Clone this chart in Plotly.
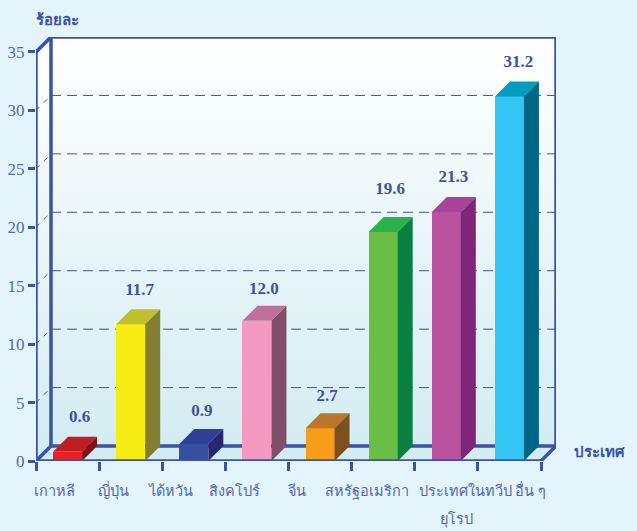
import plotly.graph_objects as go

CATEGORIES = ["เกาหลี", "ญี่ปุ่น", "ได้หวัน", "สิงคโปร์", "จีน", "สหรัฐอเมริกา", "ประเทศในทวีป", "อื่น ๆ"]
# heights as drawn in the picture (the two smallest bars are drawn taller than their printed value)
VALUES = [0.8, 11.7, 1.45, 12.0, 2.8, 19.6, 21.3, 31.2]
VALUE_TEXT = ["0.6", "11.7", "0.9", "12.0", "2.7", "19.6", "21.3", "31.2"]
Y_TICKS = [0, 5, 10, 15, 20, 25, 30, 35]
FRONT = ["#EE2024", "#F7EC13", "#364FA0", "#F49AC1", "#F99D1C", "#6ABD45", "#B9529F", "#33C5F4"]
TOP = ["#BE1E24", "#BFBF30", "#2E3F97", "#C0719B", "#BC762A", "#2BB34B", "#A8429A", "#009DBF"]
SIDE = ["#7D1416", "#808030", "#27276F", "#804E67", "#7E4F20", "#0A8040", "#7E2679", "#006685"]
# horizontal nudge of the category captions relative to each bar, in category units
LABEL_SHIFT = [-0.2, -0.27, -0.36, -0.36, -0.36, -0.25, 0.3, 0.33]
# pixel gap between the top of each bar's depth face and its printed value; horizontal nudge
VALUE_GAP = [19, 19, 17, 16, 17, 27, 19, 19]
VALUE_NUDGE = [12, 9, 8, 7, 7, 7, 7, 9]

W, H = 637, 531
L, T, B = 36, 37, 69.5
PX = 63.14           # pixels per category
PY = (H - T - B - 15) / 35.0  # pixels per unit value
DX, DY = 15 / PX, 15 / PY
BAR = 29 / PX
XMIN, XMAX = -0.5, 7.5 + DX
YMAX = 35 + DY
R = W - L - PX * (XMAX - XMIN)
PLOT_W = W - L - R
PLOT_H = H - T - B

INK = "#3A53A4"
TICKTEXT = "#5268AE"
SERIF = "Liberation Serif, Tinos, Times New Roman, serif"


def paper_x(px):
    return (px - L) / PLOT_W


def paper_y(py):
    return (H - B - py) / PLOT_H


fig = go.Figure()

# walls and floor
fig.add_trace(go.Scatter(
    x=[XMIN, XMIN, XMIN + DX, XMAX, XMAX, XMAX - DX, XMIN],
    y=[0, 35, YMAX, YMAX, DY, 0, 0],
    mode="lines", line=dict(width=0), fill="toself",
    fillgradient=dict(type="vertical", colorscale=[[0, "#D2ECF2"], [1, "#FFFFFF"]]),
    hoverinfo="skip", showlegend=False))

# dashed grid on the back wall and on the left wall
grid_x, grid_y, diag_x, diag_y = [], [], [], []
for v in Y_TICKS[1:-1]:
    grid_x += [XMIN + DX, XMAX, None]
    grid_y += [v + DY, v + DY, None]
    diag_x += [XMIN, XMIN + DX, None]
    diag_y += [v, v + DY, None]
fig.add_trace(go.Scatter(x=grid_x, y=grid_y, mode="lines",
                         line=dict(color=INK, width=1, dash="10px,6px"),
                         hoverinfo="skip", showlegend=False))
fig.add_trace(go.Scatter(x=diag_x, y=diag_y, mode="lines",
                         line=dict(color=INK, width=1, dash="5px,6px"),
                         hoverinfo="skip", showlegend=False))

# frame
frame = [
    ([XMIN + DX, XMIN + DX, XMAX, XMAX, XMIN + DX], [DY, YMAX, YMAX, DY, DY]),
    ([XMIN, XMIN + DX], [35, YMAX]),
    ([XMIN, XMIN + DX], [0, DY]),
    ([XMAX - DX, XMAX], [0, DY]),
    ([XMIN, XMIN], [0, 35]),
]
for fx, fy in frame:
    fig.add_trace(go.Scatter(x=fx, y=fy, mode="lines", cliponaxis=False,
                             line=dict(color=INK, width=3.5),
                             hoverinfo="skip", showlegend=False))

# bars on the overlay axes, so they sit in front of the walls
xs = list(range(len(VALUES)))
fig.add_trace(go.Bar(x=xs, y=VALUES, width=BAR, marker=dict(color=FRONT, line=dict(width=0)),
                     xaxis="x2", yaxis="y2", hoverinfo="skip", showlegend=False))
for i, v in enumerate(VALUES):
    x0, x1 = i - BAR / 2, i + BAR / 2
    fig.add_trace(go.Scatter(x=[x0, x1, x1 + DX, x0 + DX, x0], y=[v, v, v + DY, v + DY, v],
                             mode="lines", line=dict(width=0), fill="toself", fillcolor=TOP[i],
                             xaxis="x2", yaxis="y2", hoverinfo="skip", showlegend=False))
    fig.add_trace(go.Scatter(x=[x1, x1 + DX, x1 + DX, x1, x1], y=[0, DY, v + DY, v, 0],
                             mode="lines", line=dict(width=0), fill="toself", fillcolor=SIDE[i],
                             xaxis="x2", yaxis="y2", hoverinfo="skip", showlegend=False))

# front floor edge goes over the bar feet
fig.add_trace(go.Scatter(x=[XMIN, XMAX - DX], y=[0, 0], mode="lines", cliponaxis=False,
                         line=dict(color=INK, width=3.5), xaxis="x2", yaxis="y2",
                         hoverinfo="skip", showlegend=False))

# value labels
fig.add_trace(go.Scatter(
    x=[i + n / PX for i, n in zip(xs, VALUE_NUDGE)],
    y=[v + DY + g / PY for v, g in zip(VALUES, VALUE_GAP)],
    mode="text", text=VALUE_TEXT, textposition="middle center",
    textfont=dict(family=SERIF, size=17, color=INK, weight="bold"),
    cliponaxis=False, xaxis="x2", yaxis="y2", hoverinfo="skip", showlegend=False))

fig.update_layout(
    width=W, height=H, autosize=False,
    margin=dict(l=L, r=R, t=T, b=B, pad=0, autoexpand=False),
    paper_bgcolor="#E4F4FB", plot_bgcolor="rgba(0,0,0,0)",
    showlegend=False, bargap=0,
    font=dict(family=SERIF, color=TICKTEXT, size=16),
    xaxis=dict(range=[XMIN, XMAX], tickmode="array", automargin=False,
               tickvals=[i - 0.5 for i in range(len(CATEGORIES) + 1)],
               ticktext=[""] * (len(CATEGORIES) + 1),
               ticks="outside", ticklen=9, tickwidth=3, tickcolor=INK,
               showgrid=False, zeroline=False, showline=False),
    yaxis=dict(range=[0, YMAX], tickmode="array", tickvals=Y_TICKS, automargin=False,
               ticktext=[str(v) for v in Y_TICKS],
               ticks="outside", ticklen=7, tickwidth=3, tickcolor=INK,
               tickfont=dict(family=SERIF, size=17, color=TICKTEXT),
               showgrid=False, zeroline=False, showline=False),
    xaxis2=dict(range=[XMIN, XMAX], overlaying="x", anchor="y2", side="bottom", automargin=False,
                tickmode="array", tickvals=[i + s for i, s in zip(xs, LABEL_SHIFT)],
                ticktext=CATEGORIES, ticks="outside", ticklen=17, tickcolor="rgba(0,0,0,0)",
                tickangle=0, tickfont=dict(family=SERIF, size=14.5, color=TICKTEXT),
                showgrid=False, zeroline=False, showline=False),
    yaxis2=dict(range=[0, YMAX], overlaying="y", anchor="x2", visible=False, automargin=False),
    annotations=[
        dict(xref="paper", yref="paper", x=paper_x(58), y=paper_y(20), text="<b>ร้อยละ</b>", showarrow=False,
             xanchor="center", yanchor="middle", font=dict(family=SERIF, size=15, color=INK)),
        dict(xref="paper", yref="paper", x=paper_x(600), y=paper_y(452), text="<b>ประเทศ</b>", showarrow=False,
             xanchor="center", yanchor="middle", font=dict(family=SERIF, size=15, color=INK)),
        dict(xref="paper", yref="paper", x=paper_x(457), y=paper_y(520), text="ยุโรป", showarrow=False,
             xanchor="center", yanchor="middle", font=dict(family=SERIF, size=14.5, color=TICKTEXT)),
    ],
)

fig.write_html("out.html", config={"displayModeBar": False},
               post_script="document.body.style.margin='0';")
